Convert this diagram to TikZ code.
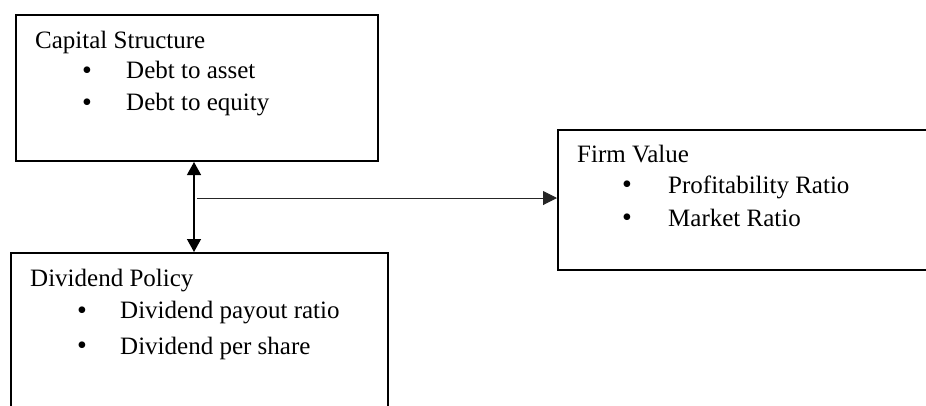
\documentclass[tikz,border=0pt]{standalone}
\usepackage{fontspec}
\setmainfont{Liberation Serif}
\usetikzlibrary{arrows.meta}
\begin{document}
\begin{tikzpicture}[x=1pt,y=-1pt,
  box/.style={draw, line width=2pt, rectangle, inner sep=0pt, anchor=north west},
  txt/.style={anchor=base west, inner sep=0pt, font=\fontsize{25}{30}\selectfont},
  dot/.style={anchor=base, inner sep=0pt, font=\fontsize{28}{30}\selectfont},
  vlink/.style={line width=1.3pt, {Triangle[length=13pt,width=14pt]}-{Triangle[length=13pt,width=14pt]}},
  hlink/.style={line width=1pt, black!85, -{Triangle[length=14pt,width=14pt]}}]
\useasboundingbox (0,0) rectangle (926,405);
\clip (0,0) rectangle (926,405);

% boxes
\node[box, minimum width=362pt, minimum height=146pt] (cap) at (15,14) {};
\node[box, minimum width=377pt, minimum height=200pt] (div) at (10,252) {};
\node[box, minimum width=420pt, minimum height=140pt] (firm) at (557,129) {};

% Capital Structure
\node[txt] (capT) at (35,48) {Capital Structure};
\node[dot] (capB1) at (87,79) {•};
\node[txt] (capL1) at (126,78) {Debt to asset};
\node[dot] (capB2) at (87,111) {•};
\node[txt] (capL2) at (126,110) {Debt to equity};

% Dividend Policy
\node[txt] (divT) at (30,286) {Dividend Policy};
\node[dot] (divB1) at (82,319) {•};
\node[txt] (divL1) at (120,318) {Dividend payout ratio};
\node[dot] (divB2) at (82,354) {•};
\node[txt] (divL2) at (120,354) {Dividend per share};

% Firm Value
\node[txt] (firmT) at (577,162) {Firm Value};
\node[dot] (firmB1) at (627,193) {•};
\node[txt] (firmL1) at (668,193) {Profitability Ratio};
\node[dot] (firmB2) at (627,226) {•};
\node[txt] (firmL2) at (668,226) {Market Ratio};

% connectors
\coordinate (vx) at (194,0);
\coordinate (hs) at (197,198);
\draw[vlink] (cap.south -| vx) -- (div.north -| vx);
\draw[hlink] (hs) -- (firm.west |- hs);
\end{tikzpicture}
\end{document}
